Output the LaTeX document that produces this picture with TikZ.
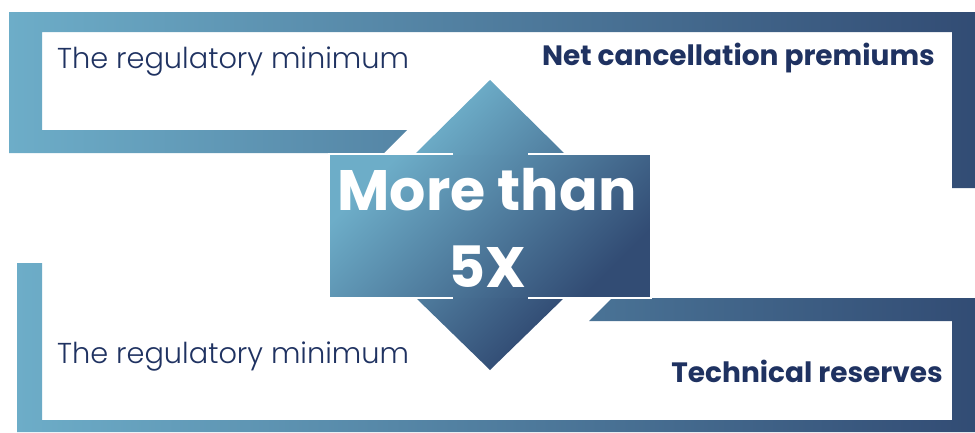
\documentclass[tikz,border=0pt]{standalone}
\usepackage{fontspec}
\setmainfont{Poppins}
\newfontfamily\thinfont{Poppins Light}
\definecolor{lightteal}{HTML}{6DADC8}
\definecolor{darknavy}{HTML}{324C74}
\definecolor{inknavy}{HTML}{1F3261}
\begin{document}
\begin{tikzpicture}[x=1pt,y=-1pt,
  band/.style={left color=lightteal,right color=darknavy},
  slab/.style={top color=lightteal,bottom color=darknavy,shading angle=45},
  rim/.style={white,line width=1.6pt},
  plain/.style={text=inknavy,font=\thinfont\fontsize{28.8}{34}\selectfont,inner sep=0pt},
  heavy/.style={text=inknavy,font=\bfseries\fontsize{28}{34}\selectfont,inner sep=0pt}]
  \useasboundingbox (0,0) rectangle (975,432);

  \shade[band] (9,12) -- (975,12) -- (975,188) -- (952,188) -- (952,32) -- (42,32)
    -- (42,130) -- (407,130) -- (384,153) -- (9,153) -- cycle;
  \shade[band] (17,263) -- (42,263) -- (42,420) -- (952,420) -- (952,321) -- (589,321)
    -- (612,298) -- (975,298) -- (975,432) -- (17,432) -- cycle;

  \shade[slab] (416,153) -- (490,80) -- (564,153) -- (528,153) -- (528,298) -- (564,298)
    -- (490,370) -- (416,298) -- (453,298) -- (453,153) -- cycle;
  \shade[slab] (329,155) rectangle (651,297);
  \draw[rim] (453,154) -- (329,154) -- (329,298) -- (453,298);
  \draw[rim] (528,154) -- (651,154) -- (651,298) -- (528,298);

  \node[plain,anchor=base west] (minTop) at (57,68) {The regulatory minimum};
  \node[heavy,anchor=base east] (premiums) at (935,65) {Net cancellation premiums};
  \node[plain,anchor=base west] (minBot) at (57,363) {The regulatory minimum};
  \node[heavy,anchor=base east] (reserves) at (943,382) {Technical reserves};
  \node[text=white,font=\bfseries\fontsize{57}{77}\selectfont,align=center,inner sep=0pt]
    (ratio) at (487,228) {More than\\5X};
\end{tikzpicture}
\end{document}
